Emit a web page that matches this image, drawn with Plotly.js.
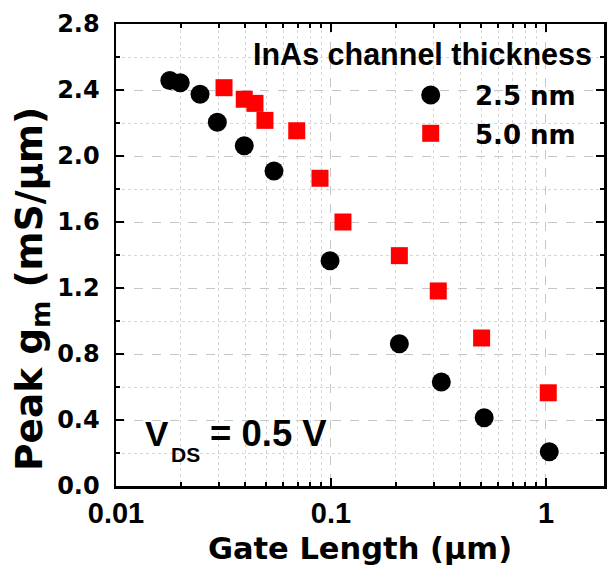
<!DOCTYPE html>
<html>
<head>
<meta charset="utf-8">
<script src="https://cdn.plot.ly/plotly-3.0.1.min.js"></script>
<style>
  html, body { margin: 0; padding: 0; background: #ffffff; }
  #chart { width: 609px; height: 567px; }
</style>
</head>
<body>
<div id="chart"></div>
<script>
// ---- data ----
var gateLength25 = [0.0178, 0.0199, 0.0246, 0.0296, 0.0395, 0.0543, 0.0990, 0.208, 0.326, 0.516, 1.036];
var peakGm25     = [2.458, 2.444, 2.374, 2.204, 2.062, 1.909, 1.365, 0.862, 0.630, 0.414, 0.208];
var gateLength50 = [0.0318, 0.0395, 0.0443, 0.0493, 0.0693, 0.0889, 0.1137, 0.208, 0.3155, 0.502, 1.025];
var peakGm50     = [2.414, 2.344, 2.319, 2.216, 2.153, 1.865, 1.600, 1.396, 1.182, 0.897, 0.565];
var seriesNames  = ['2.5 nm', '5.0 nm'];
var legendTitle  = 'InAs channel thickness';
var xTickVals    = [0.01, 0.1, 1];
var xTickText    = ['0.01', '0.1', '1'];
var xTitle       = 'Gate Length (\u03bcm)';
var yTitle       = 'Peak g<sub>m</sub> (mS/\u03bcm)';

// minor ticks on the log axis (2..9 within each decade)
var xMinor = [];
[0.01, 0.1, 1].forEach(function (d) { for (var k = 2; k <= 9; k++) xMinor.push(k * d); });

var ARIAL = 'Liberation Sans, Arial, sans-serif';
var DEJAVU = 'DejaVu Sans, Verdana, sans-serif';

// plot box in pixels: left 116, right 604, top 24, bottom 486
var L = 116, R = 604, T = 24, B = 486;
function px(xp) { return (xp - L) / (R - L); }
function py(yp) { return (B - yp) / (B - T); }

var traces = [
  {
    x: gateLength25, y: peakGm25, name: seriesNames[0], type: 'scatter', mode: 'markers',
    marker: { symbol: 'circle', size: 19, color: '#000000', line: { width: 0 } },
    showlegend: false
  },
  {
    x: gateLength50, y: peakGm50, name: seriesNames[1], type: 'scatter', mode: 'markers',
    marker: { symbol: 'square', size: 17, color: '#ff0000', line: { width: 0 } },
    showlegend: false
  }
];

var axisCommon = {
  showline: true, linecolor: '#000000', linewidth: 2.5, mirror: 'allticks',
  ticks: 'inside', ticklen: 8, tickwidth: 2, tickcolor: '#000000',
  showgrid: true, gridcolor: '#c6c6c6', griddash: 'dash', gridwidth: 1,
  zeroline: false
};

var layout = {
  width: 609, height: 567,
  margin: { l: L, r: 609 - R, t: T, b: 567 - B, pad: 0 },
  paper_bgcolor: '#ffffff', plot_bgcolor: '#ffffff',
  showlegend: false,
  xaxis: Object.assign({}, axisCommon, {
    type: 'log', range: [-2, 0.27],
    tickmode: 'array', tickvals: xTickVals, ticktext: xTickText,
    tickfont: { family: ARIAL, size: 29, weight: 'bold', color: '#000000' },
    ticklabelstandoff: 0,
    minor: { tickmode: 'array', tickvals: xMinor, ticks: 'inside', ticklen: 4, tickwidth: 2,
             tickcolor: '#000000', showgrid: true, gridcolor: '#d6d6d6', griddash: 'dot', gridwidth: 1 },
    title: { text: xTitle, font: { family: DEJAVU, size: 30.5, weight: 'bold', color: '#000000' }, standoff: 10 }
  }),
  yaxis: Object.assign({}, axisCommon, {
    range: [0, 2.8], tickmode: 'linear', tick0: 0, dtick: 0.4, tickformat: '.1f',
    tickfont: { family: DEJAVU, size: 24, weight: 'bold', color: '#000000' },
    ticklabelstandoff: 9,
    minor: { dtick: 0.2, ticks: 'inside', ticklen: 4, tickwidth: 2, tickcolor: '#000000',
             showgrid: true, gridcolor: '#d6d6d6', griddash: 'dot', gridwidth: 1 }
  }),
  shapes: [
    { type: 'circle', xref: 'paper', yref: 'paper', xsizemode: 'pixel', ysizemode: 'pixel',
      xanchor: px(430.7), yanchor: py(95), x0: -9.5, x1: 9.5, y0: -9.5, y1: 9.5,
      fillcolor: '#000000', line: { width: 0 } },
    { type: 'rect', xref: 'paper', yref: 'paper', xsizemode: 'pixel', ysizemode: 'pixel',
      xanchor: px(430.7), yanchor: py(133.3), x0: -8.5, x1: 8.5, y0: -8.5, y1: 8.5,
      fillcolor: '#ff0000', line: { width: 0 } }
  ],
  annotations: [
    { text: yTitle, xref: 'paper', yref: 'paper', x: px(31), y: py(289), textangle: -90,
      xanchor: 'center', yanchor: 'middle', showarrow: false, borderpad: 0, borderwidth: 0,
      font: { family: DEJAVU, size: 37.5, weight: 'bold', color: '#000000' } },
    { text: legendTitle, xref: 'paper', yref: 'paper', x: px(592), y: py(54.4),
      xanchor: 'right', yanchor: 'middle', showarrow: false, borderpad: 0, borderwidth: 0,
      font: { family: ARIAL, size: 30.5, weight: 'bold', color: '#000000' } },
    { text: seriesNames[0], xref: 'paper', yref: 'paper', x: px(475), y: py(96),
      xanchor: 'left', yanchor: 'middle', showarrow: false, borderpad: 0, borderwidth: 0,
      font: { family: DEJAVU, size: 26, weight: 'bold', color: '#000000' } },
    { text: seriesNames[1], xref: 'paper', yref: 'paper', x: px(475), y: py(135),
      xanchor: 'left', yanchor: 'middle', showarrow: false, borderpad: 0, borderwidth: 0,
      font: { family: DEJAVU, size: 26, weight: 'bold', color: '#000000' } },
    { text: 'V', xref: 'paper', yref: 'paper', x: px(145), y: py(433.8),
      xanchor: 'left', yanchor: 'middle', showarrow: false, borderpad: 0, borderwidth: 0,
      font: { family: ARIAL, size: 35, weight: 'bold', color: '#000000' } },
    { text: 'DS', xref: 'paper', yref: 'paper', x: px(170.5), y: py(454.3),
      xanchor: 'left', yanchor: 'middle', showarrow: false, borderpad: 0, borderwidth: 0,
      font: { family: ARIAL, size: 21, weight: 'bold', color: '#000000' } },
    { text: '= 0.5 V', xref: 'paper', yref: 'paper', x: px(210), y: py(433.8),
      xanchor: 'left', yanchor: 'middle', showarrow: false, borderpad: 0, borderwidth: 0,
      font: { family: ARIAL, size: 36.5, weight: 'bold', color: '#000000' } }
  ]
};

Plotly.newPlot('chart', traces, layout, { displayModeBar: false, staticPlot: true });
</script>
</body>
</html>
